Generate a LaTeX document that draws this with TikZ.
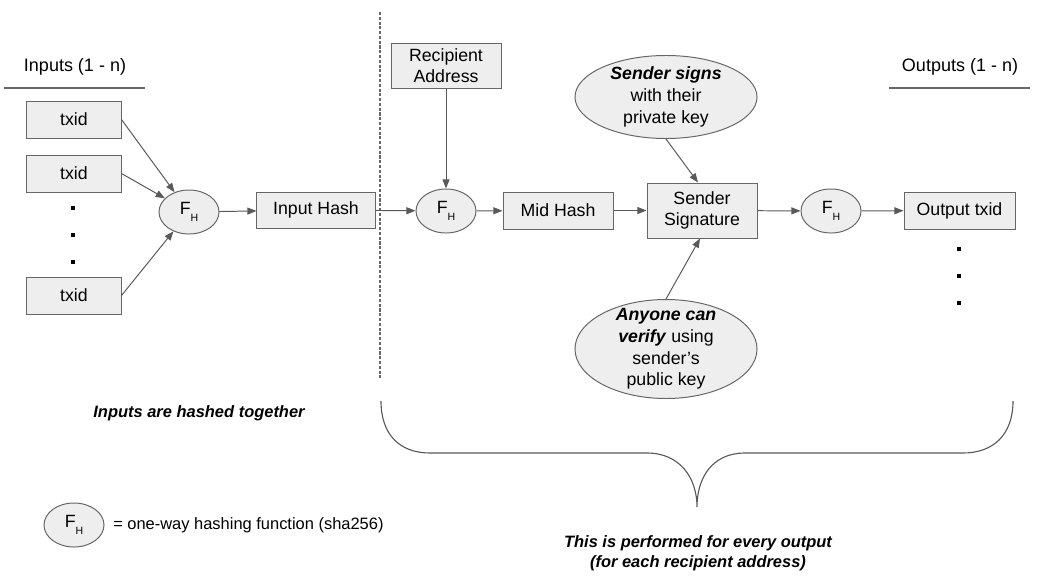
\documentclass[tikz,border=0pt]{standalone}
\usepackage{fontspec}
\setmainfont{Liberation Sans}
\usetikzlibrary{arrows.meta,shapes.geometric}
\definecolor{boxfill}{HTML}{EEEEEE}
\definecolor{edgegray}{HTML}{666666}
\definecolor{linegray}{HTML}{595959}
\newcommand{\fh}{F\raisebox{-0.7ex}{\fontsize{7.5}{8}\selectfont H}}
\tikzset{
  box/.style={draw=edgegray,fill=boxfill,line width=0.7pt,inner sep=0pt,align=center,font=\fontsize{12.6}{15}\selectfont},
  hashell/.style={ellipse,draw=edgegray,fill=boxfill,line width=0.7pt,minimum width=1.5cm,minimum height=1.1cm,inner sep=0pt,font=\fontsize{12.6}{15}\selectfont},
  noteell/.style={ellipse,draw=edgegray,fill=boxfill,line width=0.7pt,minimum width=4.55cm,inner sep=0pt,inner ysep=-4pt,align=center,font=\fontsize{12.6}{15.5}\selectfont},
  arr/.style={draw=linegray,line width=0.7pt,-{Triangle[length=6.5pt,width=5pt]}},
  head/.style={font=\fontsize{12.8}{15}\selectfont},
  note/.style={font=\fontsize{11.7}{14}\selectfont\bfseries\itshape,align=center}
}
\begin{document}
\begin{tikzpicture}[x=0.025cm,y=-0.025cm]
  \useasboundingbox (0,0) rectangle (1037,580);
  \node[head] (inhead) at (75,67) {Inputs (1 - n)};
  \draw[edgegray,line width=0.8pt] (4,88) -- (145,88);
  \node[head] (outhead) at (960,67) {Outputs (1 - n)};
  \draw[edgegray,line width=0.8pt] (889,88) -- (1030,88);
  \node[box,minimum width=2.35cm,minimum height=0.925cm] (txid1) at (74,119.5) {txid};
  \node[box,minimum width=2.35cm,minimum height=0.925cm] (txid2) at (74,173.5) {txid};
  \node[box,minimum width=2.35cm,minimum height=0.925cm] (txid4) at (74,295.5) {txid};
  \foreach \y in {208,235,262} \fill[black] (73,\y) +(-1.6,-1.6) rectangle +(1.6,1.6);
  \node[hashell] (fh1) at (189,212) {\fh};
  \node[box,minimum width=2.95cm,minimum height=0.9cm] (inhash) at (316,210) {Input Hash};
  \draw[edgegray,line width=0.9pt,dash pattern=on 2.2pt off 1.2pt] (380,12) -- (380,378);
  \node[box,minimum width=2.75cm,minimum height=1.125cm] (addr) at (446,65.5) {Recipient\\Address};
  \node[hashell] (fh2) at (446,211) {\fh};
  \node[box,minimum width=2.75cm,minimum height=0.925cm] (mid) at (558,210.5) {Mid Hash};
  \node[box,minimum width=2.75cm,minimum height=1.375cm] (sig) at (702,210.5) {Sender\\Signature};
  \node[noteell,minimum height=2.075cm] (signs) at (666,97) {\textbf{\textit{Sender signs}}\\with their\\private key};
  \node[noteell,minimum height=2.375cm] (anyone) at (666,349) {\textbf{\textit{Anyone can}}\\\textbf{\textit{verify}} using\\sender’s\\public key};
  \node[hashell] (fh3) at (831,211) {\fh};
  \node[box,minimum width=2.775cm,minimum height=0.925cm] (out) at (959.5,210.5) {Output txid};
  \foreach \y in {249,276,303} \fill[black] (959,\y) +(-1.6,-1.6) rectangle +(1.6,1.6);
  \draw[arr] (txid1.east) -- (fh1);
  \draw[arr] (txid2.east) -- (fh1);
  \draw[arr] (txid4.east) -- (fh1);
  \draw[arr] (fh1) -- (inhash);
  \draw[arr] (inhash) -- (fh2);
  \draw[arr] (addr) -- (fh2);
  \draw[arr] (fh2) -- (mid);
  \draw[arr] (mid) -- (sig);
  \draw[arr] (signs.south) -- ([xshift=-0.1cm]sig.north);
  \draw[arr] (anyone.north) -- ([xshift=-0.05cm]sig.south);
  \draw[arr] (sig) -- (fh3);
  \draw[arr] (fh3) -- (out);
  \node[note] (hashnote) at (199,413) {Inputs are hashed together};
  \draw[linegray,line width=0.8pt] (381,401) .. controls (381,435) and (400,453) .. (430,453) -- (647,453)
    .. controls (680,453) and (697,478) .. (697,507) .. controls (697,478) and (712,453) .. (745,453) -- (963,453)
    .. controls (993,453) and (1013,435) .. (1013,401);
  \node[hashell] (legfh) at (74,525) {\fh};
  \node[anchor=west,inner sep=0pt,font=\fontsize{11.7}{14}\selectfont] (legtxt) at (113,525) {= one-way hashing function (sha256)};
  \node[note] (outnote) at (698,553) {This is performed for every output\\(for each recipient address)};
\end{tikzpicture}
\end{document}
